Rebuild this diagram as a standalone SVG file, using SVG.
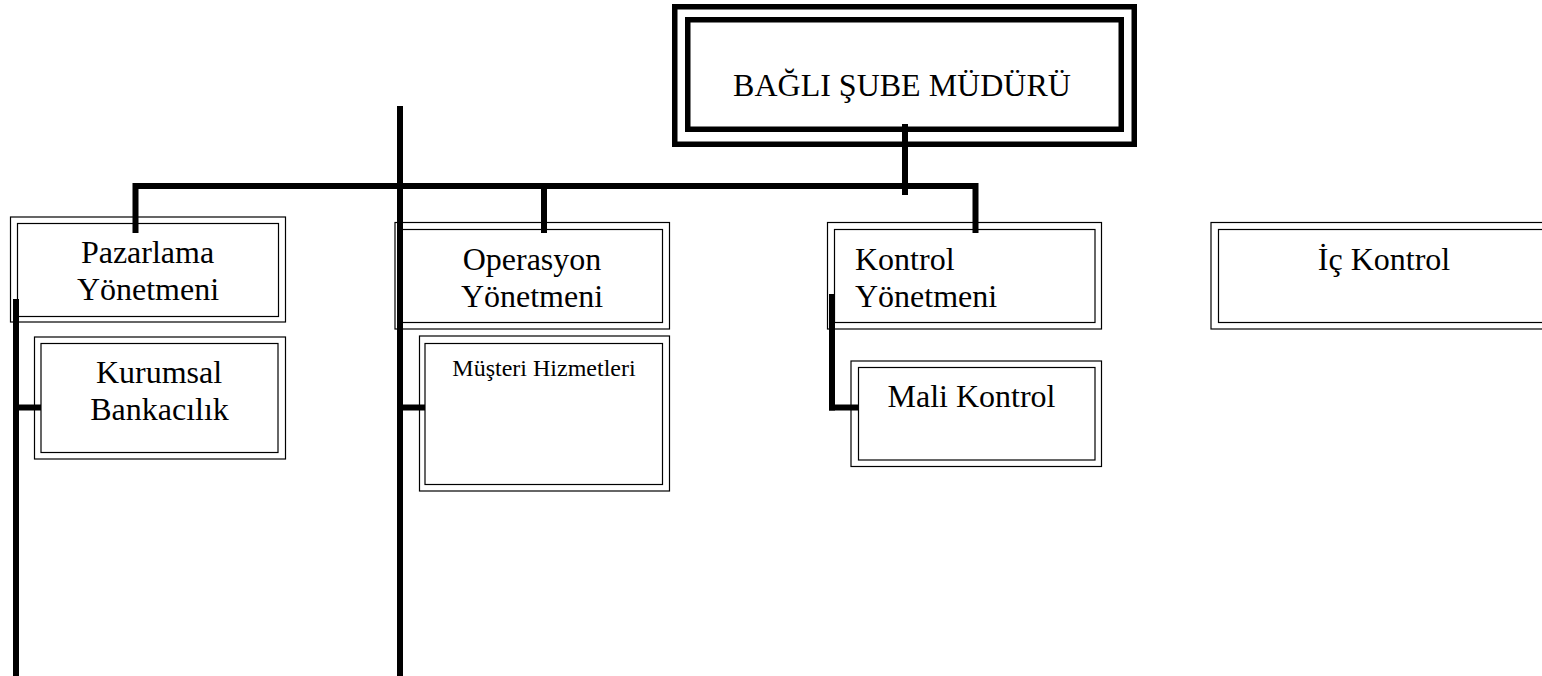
<svg xmlns="http://www.w3.org/2000/svg" width="1542" height="676" viewBox="0 0 1542 676">
  <style>
    .frame { fill: #fff; stroke: #000; stroke-width: 1.2; }
    .head { fill: #fff; stroke: #000; stroke-width: 5.5; }
    .lbl { font-family: "Liberation Serif", "Times New Roman", serif; font-size: 32px; fill: #000; }
    .mid { text-anchor: middle; }
    .small { font-size: 24px; }
    .wire { fill: none; stroke: #000; stroke-width: 6; stroke-linejoin: miter; }
  </style>
  <rect width="1542" height="676" fill="#fff"/>

  <!-- top manager -->
  <g id="node-sube-muduru">
    <rect class="head" x="674.75" y="6.75" width="459.5" height="137.5"/>
    <rect class="head" x="687.75" y="19.75" width="433.5" height="109.5"/>
    <text class="lbl mid" x="902" y="96">BAĞLI ŞUBE MÜDÜRÜ</text>
  </g>

  <g id="node-pazarlama">
    <rect class="frame" x="10.5" y="217" width="275" height="105"/>
    <rect class="frame" x="17.5" y="223.5" width="261" height="93"/>
    <text class="lbl mid" x="147.5" y="263">Pazarlama</text>
    <text class="lbl mid" x="148" y="300">Yönetmeni</text>
  </g>

  <g id="node-kurumsal">
    <rect class="frame" x="34.5" y="337" width="251" height="122"/>
    <rect class="frame" x="41" y="343.5" width="237" height="109"/>
    <text class="lbl mid" x="159" y="383">Kurumsal</text>
    <text class="lbl mid" x="159.5" y="420">Bankacılık</text>
  </g>

  <g id="node-operasyon">
    <rect class="frame" x="395" y="222.5" width="274.5" height="106.5"/>
    <rect class="frame" x="401.5" y="229.5" width="261" height="93"/>
    <text class="lbl mid" x="532" y="270">Operasyon</text>
    <text class="lbl mid" x="532" y="306.5">Yönetmeni</text>
  </g>

  <g id="node-musteri">
    <rect class="frame" x="419.5" y="336" width="250" height="155"/>
    <rect class="frame" x="425" y="343.5" width="237.5" height="141"/>
    <text class="lbl mid small" x="544" y="375.5">Müşteri Hizmetleri</text>
  </g>

  <g id="node-kontrol">
    <rect class="frame" x="827.5" y="222.5" width="274" height="106.5"/>
    <rect class="frame" x="834.5" y="229.5" width="260.5" height="93"/>
    <text class="lbl" x="855" y="270">Kontrol</text>
    <text class="lbl" x="855" y="306.5">Yönetmeni</text>
  </g>

  <g id="node-mali-kontrol">
    <rect class="frame" x="851" y="361" width="250.5" height="105.5"/>
    <rect class="frame" x="858.5" y="367.5" width="236.5" height="92.5"/>
    <text class="lbl mid" x="971.5" y="407">Mali Kontrol</text>
  </g>

  <g id="node-ic-kontrol">
    <rect class="frame" x="1211" y="222.5" width="400" height="106.5"/>
    <rect class="frame" x="1218.5" y="229.5" width="400" height="93"/>
    <text class="lbl mid" x="1384" y="270">İç Kontrol</text>
  </g>

  <!-- connector lines -->
  <g id="connectors">
    <path class="wire" d="M905 124 V195"/>
    <path class="wire" d="M135.5 233 V186 H975.5 V233"/>
    <path class="wire" d="M544 186 V233"/>
    <path class="wire" d="M400 106 V676"/>
    <path class="wire" d="M16 299 V676"/>
    <path class="wire" d="M16 407.5 H41"/>
    <path class="wire" d="M400 407.5 H425"/>
    <path class="wire" d="M832 294 V410.5"/>
    <path class="wire" d="M829 407.5 H858"/>
  </g>
</svg>
